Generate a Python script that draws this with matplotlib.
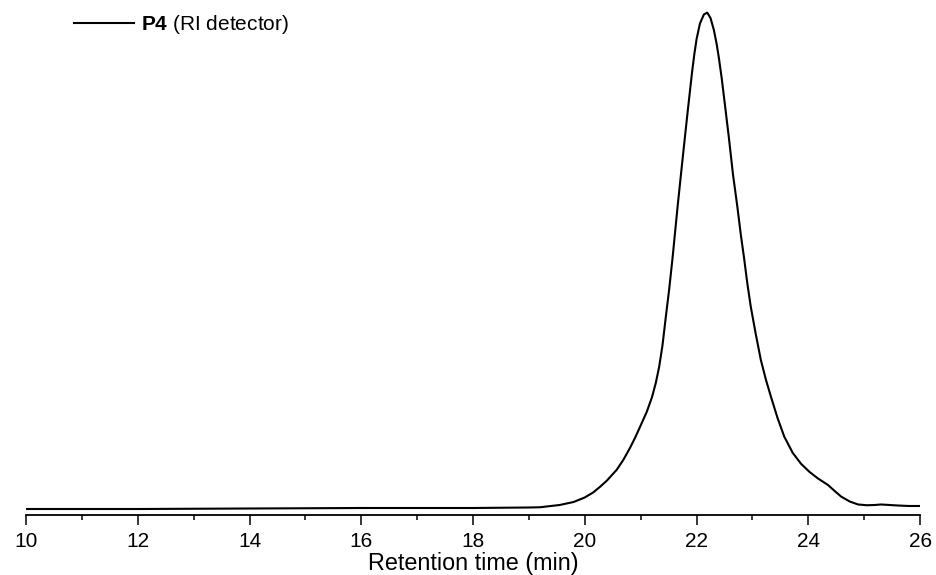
import matplotlib
matplotlib.use("Agg")
import matplotlib.pyplot as plt
from matplotlib.ticker import MultipleLocator

plt.rcParams['font.family'] = ['Liberation Sans', 'DejaVu Sans']
plt.rcParams['mathtext.fontset'] = 'custom'
plt.rcParams['mathtext.rm'] = 'Liberation Sans'
plt.rcParams['mathtext.bf'] = 'Liberation Sans:bold'

# RI trace (relative intensity, peak ~100)
time_min = [10.0, 12.0, 14.0, 16.0, 18.0, 19.0, 19.2, 19.55, 19.8, 20.0,
            20.15, 20.27, 20.39, 20.57, 20.69, 20.81, 20.9, 20.99, 21.11,
            21.2, 21.27, 21.33, 21.39, 21.45, 21.51, 21.57, 21.66, 21.72,
            21.78, 21.84, 21.88, 21.92, 21.96, 22.0, 22.06, 22.13, 22.19,
            22.25, 22.31, 22.36, 22.4, 22.45, 22.51, 22.58, 22.65, 22.73,
            22.79, 22.85, 22.91, 22.97, 23.06, 23.15, 23.24, 23.33, 23.45,
            23.57, 23.72, 23.87, 24.02, 24.17, 24.35, 24.47, 24.59, 24.74,
            24.89, 25.05, 25.19, 25.3, 25.45, 25.6, 25.8, 26.0]
signal = [1.2, 1.2, 1.3, 1.4, 1.4, 1.5, 1.55, 2.0, 2.6, 3.5,
          4.5, 5.6, 6.8, 9.0, 11.0, 13.4, 15.4, 17.6, 20.6,
          23.4, 26.3, 29.5, 33.8, 39.5, 45.0, 51.2, 61.4, 67.8,
          74.1, 80.3, 84.3, 88.3, 91.8, 94.8, 97.9, 99.7, 100.1,
          99.0, 96.6, 93.8, 91.0, 87.0, 81.5, 75.0, 68.0, 61.4,
          56.0, 51.2, 46.0, 41.5, 36.0, 30.9, 27.0, 23.6, 19.3,
          15.6, 12.4, 10.2, 8.6, 7.3, 6.0, 4.8, 3.65, 2.7,
          2.1, 1.95, 2.0, 2.1, 2.0, 1.9, 1.8, 1.8]
series_label = r'$\mathbf{P4}$ (RI detector)'

fig = plt.figure(figsize=(9.36, 5.75), dpi=100)
ax = fig.add_axes([0.0278, 0.1043, 0.9552, 0.8957])

ax.plot(time_min, signal, color='black', lw=1.5, label=series_label)

ax.set_xlim(10, 26)
ax.set_ylim(0, 102.6)
ax.xaxis.set_major_locator(MultipleLocator(2))
ax.xaxis.set_minor_locator(MultipleLocator(1))
ax.tick_params(axis='x', which='major', length=7.5, width=1.1, labelsize=15, pad=5)
ax.tick_params(axis='x', which='minor', length=3.8, width=1.1)
ax.set_yticks([])
for side in ['top', 'right', 'left']:
    ax.spines[side].set_visible(False)
ax.spines['bottom'].set_linewidth(1.3)
ax.set_xlabel('Retention time (min)', fontsize=16.8, labelpad=0.5)

ax.legend(loc='upper left', bbox_to_anchor=(0.0537, 0.975), frameon=False,
          fontsize=15, handlelength=2.9, handletextpad=0.3,
          borderpad=0, borderaxespad=0)

plt.savefig('out.png', dpi=100)
